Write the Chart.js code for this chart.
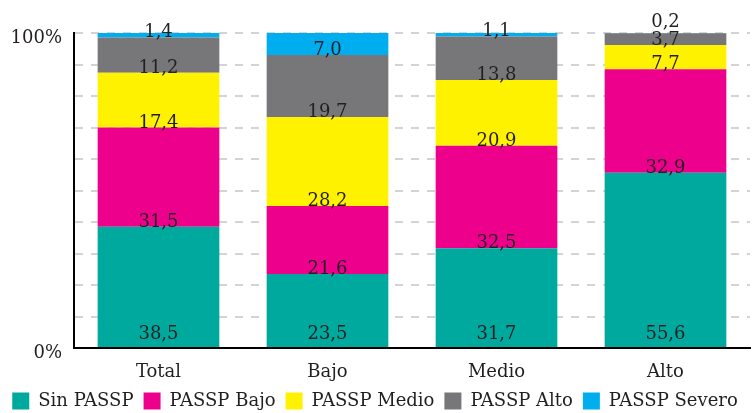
<!DOCTYPE html>
<html lang="es">
<head>
<meta charset="utf-8">
<title>PASSP por nivel</title>
<script src="https://cdn.jsdelivr.net/npm/chart.js@4/dist/chart.umd.min.js"></script>
<style>
  html, body { margin: 0; padding: 0; background: #ffffff; }
  #wrap { width: 753px; height: 413px; position: relative; }
</style>
</head>
<body>
<div id="wrap"><canvas id="chart"></canvas></div>
<script>
// Categorías y porcentajes por nivel de PASSP
const categories = ['Total', 'Bajo', 'Medio', 'Alto'];
const sinPassp    = [38.5, 23.5, 31.7, 55.6];
const passpBajo   = [31.5, 21.6, 32.5, 32.9];
const passpMedio  = [17.4, 28.2, 20.9, 7.7];
const passpAlto   = [11.2, 19.7, 13.8, 3.7];
const passpSevero = [1.4, 7.0, 1.1, 0.2];
const seriesNames = ['Sin PASSP', 'PASSP Bajo', 'PASSP Medio', 'PASSP Alto', 'PASSP Severo'];
const seriesColors = ['#00A99D', '#EC008C', '#FFF200', '#77777A', '#00AEEF'];
const yTickLabels = { 0: '0%', 100: '100%' };

const FONT = "'DejaVu Serif', serif";
const INK = '#231f20';

const seriesValues = [sinPassp, passpBajo, passpMedio, passpAlto, passpSevero];

// Etiquetas de valor al pie de cada segmento
const segmentLabels = {
  id: 'segmentLabels',
  afterDatasetsDraw(chart) {
    const ctx = chart.ctx;
    ctx.save();
    ctx.font = '18px ' + FONT;
    ctx.fillStyle = INK;
    ctx.textAlign = 'center';
    ctx.textBaseline = 'alphabetic';
    const lastY = [];
    chart.data.datasets.forEach((ds, di) => {
      const meta = chart.getDatasetMeta(di);
      meta.data.forEach((bar, j) => {
        let y = bar.base;
        if (di === 0) y -= 8;
        if (lastY[j] !== undefined && lastY[j] - y < 18) y = lastY[j] - 18;
        lastY[j] = y;
        const txt = ds.data[j].toFixed(1).replace('.', ',');
        ctx.fillText(txt, bar.x, y);
      });
    });
    ctx.restore();
  }
};

// Leyenda compacta pegada al borde inferior
const legendFit = {
  id: 'legendFit',
  beforeLayout(chart) {
    const lg = chart.legend;
    if (lg && !lg.__compact) {
      const fit = lg.fit;
      lg.fit = function () { fit.call(this); this.height = 28; };
      lg.__compact = true;
    }
  },
  afterLayout(chart) {
    if (chart.legend) {
      chart.legend.top -= 3;
      chart.legend.bottom -= 3;
    }
  }
};

new Chart(document.getElementById('chart'), {
  type: 'bar',
  data: {
    labels: categories,
    datasets: seriesValues.map((vals, i) => ({
      label: seriesNames[i],
      data: vals,
      backgroundColor: seriesColors[i],
      borderWidth: 0,
      categoryPercentage: 1,
      barPercentage: 0.72
    }))
  },
  options: {
    responsive: true,
    maintainAspectRatio: false,
    animation: false,
    events: [],
    layout: { padding: { top: 33, right: 3, left: 0, bottom: 0 } },
    plugins: {
      tooltip: { enabled: false },
      legend: {
        position: 'bottom',
        labels: {
          boxWidth: 17,
          boxHeight: 17,
          padding: 10,
          color: INK,
          font: { family: FONT, size: 18 }
        }
      }
    },
    scales: {
      x: {
        stacked: true,
        grid: { display: false, drawTicks: false },
        border: { display: true, color: '#000000', width: 2 },
        ticks: {
          color: INK,
          padding: 14,
          font: { family: FONT, size: 18 }
        },
        afterFit(scale) { scale.height = 37; }
      },
      y: {
        stacked: true,
        min: 0,
        max: 100,
        grid: { color: '#d4d4d4', lineWidth: 2, drawTicks: false },
        border: { display: true, color: '#000000', width: 2, dash: [8, 8] },
        ticks: {
          stepSize: 10,
          padding: 12,
          labelOffset: 5,
          color: INK,
          font: { family: FONT, size: 18 },
          callback: (v) => (yTickLabels[v] !== undefined ? yTickLabels[v] : '')
        },
        afterFit(scale) { scale.width = 74; }
      }
    }
  },
  plugins: [segmentLabels, legendFit]
});
</script>
</body>
</html>
